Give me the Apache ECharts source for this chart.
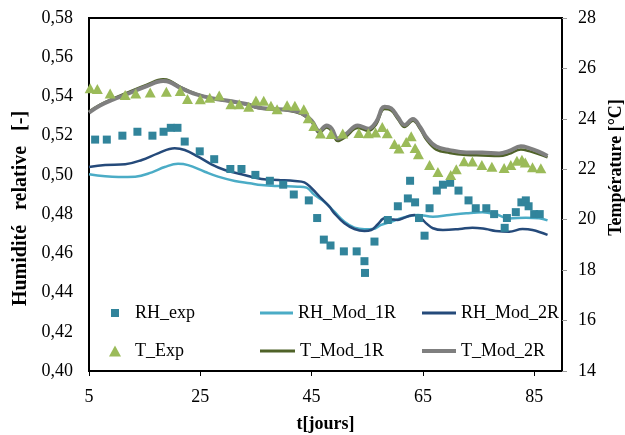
<!DOCTYPE html>
<html><head><meta charset="utf-8">
<script src="https://cdn.jsdelivr.net/npm/echarts@6/dist/echarts.min.js"></script>
<style>html,body{margin:0;padding:0;background:#fff}#c{width:625px;height:435px}</style>
</head><body><div id="c"></div>
<script>
const xTicks = [5, 25, 45, 65, 85];
const rhExpT = [6.1, 8.2, 11.0, 13.7, 16.4, 18.4, 19.7, 20.9, 22.2, 24.9, 27.5, 30.4, 32.4, 34.9, 37.5, 39.9, 41.8, 44.5, 46.0, 47.2, 48.4, 50.8, 53.1, 54.5, 54.6, 56.3, 58.7, 60.5, 62.3, 62.7, 63.6, 64.3, 65.3, 66.2, 67.5, 68.6, 69.9, 71.4, 73.2, 74.5, 76.4, 77.8, 79.7, 80.1, 81.7, 82.7, 83.5, 84.0, 85.0, 86.0];
const rhExp = [0.518, 0.518, 0.520, 0.522, 0.520, 0.522, 0.524, 0.524, 0.517, 0.512, 0.508, 0.503, 0.503, 0.500, 0.497, 0.495, 0.490, 0.487, 0.478, 0.467, 0.464, 0.461, 0.461, 0.456, 0.450, 0.466, 0.477, 0.484, 0.488, 0.497, 0.486, 0.478, 0.469, 0.483, 0.492, 0.495, 0.496, 0.492, 0.487, 0.483, 0.483, 0.480, 0.473, 0.478, 0.481, 0.486, 0.487, 0.484, 0.480, 0.480];
const m1T = [5.0, 10.3, 13.3, 16.3, 18.6, 21.0, 22.8, 25.8, 28.2, 31.2, 33.9, 36.0, 39.0, 42.5, 44.1, 45.5, 47.3, 49.1, 50.9, 52.7, 54.5, 56.0, 57.5, 59.3, 61.1, 62.6, 64.1, 66.8, 69.8, 72.8, 75.7, 78.1, 80.5, 83.5, 85.9, 87.4];
const rhMod1 = [0.5003, 0.4989, 0.4991, 0.5013, 0.5040, 0.5057, 0.5050, 0.5016, 0.4991, 0.4969, 0.4957, 0.4948, 0.4943, 0.4940, 0.4935, 0.4898, 0.4863, 0.4812, 0.4761, 0.4731, 0.4723, 0.4724, 0.4745, 0.4761, 0.4779, 0.4790, 0.4796, 0.4787, 0.4796, 0.4804, 0.4809, 0.4799, 0.4778, 0.4782, 0.4779, 0.4768];
const m2T = [5.0, 7.9, 11.5, 14.5, 17.4, 20.4, 22.2, 24.6, 27.0, 29.4, 32.4, 36.0, 39.0, 42.0, 43.7, 45.0, 46.7, 48.2, 49.1, 50.9, 52.7, 54.5, 55.7, 56.9, 58.1, 59.3, 60.5, 61.7, 62.6, 63.5, 64.4, 65.6, 66.8, 68.6, 71.6, 73.9, 76.3, 78.1, 80.5, 82.9, 84.7, 87.4];
const rhMod2 = [0.5040, 0.5050, 0.5054, 0.5076, 0.5110, 0.5136, 0.5127, 0.5093, 0.5054, 0.5025, 0.5003, 0.4979, 0.4974, 0.4969, 0.4962, 0.4932, 0.4881, 0.4838, 0.4804, 0.4753, 0.4724, 0.4714, 0.4719, 0.4748, 0.4779, 0.4774, 0.4770, 0.4782, 0.4792, 0.4796, 0.4787, 0.4753, 0.4728, 0.4719, 0.4724, 0.4731, 0.4724, 0.4714, 0.4710, 0.4724, 0.4719, 0.4694];
const tExpT = [5.2, 6.5, 8.8, 11.5, 13.4, 16.0, 18.9, 21.4, 22.7, 25.0, 26.7, 28.4, 30.5, 32.0, 33.7, 35.0, 36.4, 37.7, 38.8, 40.6, 42.0, 43.6, 44.4, 45.4, 46.6, 48.5, 50.6, 53.5, 55.2, 56.5, 57.7, 58.6, 59.9, 60.7, 62.0, 62.9, 63.6, 64.2, 66.2, 67.7, 70.0, 71.0, 72.4, 73.9, 75.6, 77.4, 79.6, 80.8, 81.9, 82.8, 83.4, 84.7, 86.2];
const tExp = [25.21, 25.18, 25.01, 24.95, 25.01, 25.05, 25.08, 25.10, 24.79, 24.78, 24.84, 24.93, 24.58, 24.58, 24.48, 24.73, 24.72, 24.52, 24.38, 24.54, 24.52, 24.38, 24.02, 23.72, 23.42, 23.40, 23.42, 23.44, 23.43, 23.46, 23.68, 23.43, 23.00, 22.82, 23.08, 23.31, 22.84, 22.60, 22.17, 21.89, 21.77, 22.00, 22.32, 22.31, 22.17, 22.10, 22.05, 22.17, 22.34, 22.38, 22.27, 22.08, 22.04];
const tModT = [5.0, 7.0, 9.4, 11.5, 15.4, 18.3, 19.5, 21.5, 24.3, 27.3, 30.3, 33.3, 35.4, 37.8, 40.8, 43.2, 45.0, 46.4, 47.7, 48.6, 49.7, 51.1, 53.3, 55.2, 56.6, 58.1, 59.3, 60.5, 61.7, 63.2, 64.5, 65.6, 67.4, 69.8, 72.8, 75.7, 78.7, 80.5, 82.6, 84.1, 85.9, 87.4];
const tMod1 = [24.29, 24.57, 24.81, 25.01, 25.36, 25.57, 25.52, 25.26, 24.99, 24.81, 24.69, 24.57, 24.43, 24.37, 24.33, 24.19, 23.88, 23.44, 23.66, 23.52, 23.12, 23.28, 23.64, 23.52, 23.78, 24.39, 24.33, 23.99, 23.68, 23.92, 23.60, 23.18, 22.78, 22.65, 22.57, 22.55, 22.53, 22.61, 22.78, 22.72, 22.59, 22.47];
const tMod2 = [24.25, 24.53, 24.77, 24.95, 25.30, 25.50, 25.46, 25.22, 24.97, 24.81, 24.71, 24.59, 24.45, 24.39, 24.35, 24.23, 23.93, 23.52, 23.74, 23.62, 23.22, 23.38, 23.74, 23.61, 23.88, 24.48, 24.42, 24.07, 23.76, 23.99, 23.68, 23.28, 22.90, 22.76, 22.67, 22.67, 22.63, 22.73, 22.91, 22.84, 22.69, 22.53];

const zip = (a, b) => a.map((v, i) => [v, b[i]]);
const FONT = '"Liberation Serif","Times New Roman",serif';
const C = {rhExp:'#31849B', rh1:'#4BACC6', rh2:'#254A7A', tExp:'#9BBB59', t1:'#4F6228', t2:'#7F7F7F'};

function leg(name, icon, left, top, w, h, pad) {
  return {
    data: [{name: name, icon: icon}], left: left, top: top, padding: 0,
    itemWidth: w, itemHeight: h, orient: 'horizontal',
    textStyle: {fontFamily: FONT, fontSize: 18, color: '#000', padding: [0, 0, 0, pad || 0]}
  };
}

const chart = echarts.init(document.getElementById('c'));
chart.setOption({
  animation: false,
  backgroundColor: '#fff',
  textStyle: {fontFamily: FONT},
  grid: {left: 89, top: 18, right: 63, bottom: 64, show: true, borderColor: '#000', borderWidth: 2,
    backgroundColor: 'transparent', containLabel: false, outerBoundsMode: 'none'},
  legend: [
    leg('RH_exp', 'rect', 111, 304, 8, 8, 11),
    leg('RH_Mod_1R', 'rect', 260, 304, 33, 3),
    leg('RH_Mod_2R', 'rect', 422, 304, 34, 3),
    leg('T_Exp', 'triangle', 109, 342, 12, 11, 9),
    leg('T_Mod_1R', 'rect', 260, 342, 35, 3),
    leg('T_Mod_2R', 'rect', 422, 342, 34, 4)
  ],
  xAxis: {
    type: 'value', min: 5, max: 90,
    name: 't[jours]', nameLocation: 'middle', nameGap: 44,
    nameTextStyle: {fontFamily: FONT, fontSize: 18, fontWeight: 'bold', color: '#000'},
    axisLine: {show: true, lineStyle: {color: '#000', width: 2}},
    axisTick: {show: true, customValues: xTicks, length: 5, lineStyle: {color: '#000', width: 1}},
    axisLabel: {customValues: xTicks, fontFamily: FONT, fontSize: 18, color: '#000', margin: 17},
    splitLine: {show: false}
  },
  yAxis: [
    {
      type: 'value', min: 0.40, max: 0.58, interval: 0.02, position: 'left',
      name: 'Humidité   relative   [-]', nameLocation: 'middle', nameGap: 55,
      nameTextStyle: {fontFamily: FONT, fontSize: 20, fontWeight: 'bold', color: '#000', padding: [0, 28, 0, 0]},
      axisLine: {show: true, lineStyle: {color: '#000', width: 2}},
      axisTick: {show: false},
      axisLabel: {fontFamily: FONT, fontSize: 18, color: '#000', margin: 16,
        formatter: v => v.toFixed(2).replace('.', ',')},
      splitLine: {show: false}
    },
    {
      type: 'value', min: 14, max: 28, interval: 2, position: 'right',
      name: 'Température [°C]', nameLocation: 'middle', nameGap: 44, nameRotate: 90,
      nameTextStyle: {fontFamily: FONT, fontSize: 18, fontWeight: 'bold', color: '#000', padding: [0, 0, 0, 54]},
      axisLine: {show: true, lineStyle: {color: '#000', width: 2}},
      axisTick: {show: true, length: 5, lineStyle: {color: '#999', width: 1}},
      axisLabel: {fontFamily: FONT, fontSize: 18, color: '#000', margin: 16},
      splitLine: {show: false}
    }
  ],
  series: [
    {name: 'RH_Mod_1R', type: 'line', yAxisIndex: 0, data: zip(m1T, rhMod1), smooth: 0.4, showSymbol: false, symbol: 'none',
      lineStyle: {color: C.rh1, width: 2.5}, itemStyle: {color: C.rh1}, z: 2},
    {name: 'RH_Mod_2R', type: 'line', yAxisIndex: 0, data: zip(m2T, rhMod2), smooth: 0.4, showSymbol: false, symbol: 'none',
      lineStyle: {color: C.rh2, width: 2.5}, itemStyle: {color: C.rh2}, z: 3},
    {name: 'T_Mod_1R', type: 'line', yAxisIndex: 1, data: zip(tModT, tMod1), smooth: 0.4, showSymbol: false, symbol: 'none',
      lineStyle: {color: C.t1, width: 2.5}, itemStyle: {color: C.t1}, z: 2},
    {name: 'T_Mod_2R', type: 'line', yAxisIndex: 1, data: zip(tModT, tMod2), smooth: 0.4, showSymbol: false, symbol: 'none',
      lineStyle: {color: C.t2, width: 4}, itemStyle: {color: C.t2}, z: 3},
    {name: 'RH_exp', type: 'scatter', yAxisIndex: 0, data: zip(rhExpT, rhExp), symbol: 'rect', symbolSize: 8,
      itemStyle: {color: C.rhExp, opacity: 1}, z: 5},
    {name: 'T_Exp', type: 'scatter', yAxisIndex: 1, data: zip(tExpT, tExp), symbol: 'triangle', symbolSize: [11, 10],
      itemStyle: {color: C.tExp, opacity: 1}, z: 5}
  ]
});
</script></body></html>
